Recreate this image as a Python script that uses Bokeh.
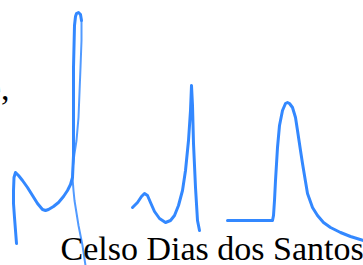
from bokeh.plotting import figure
from bokeh.models import Range1d, Label
from bokeh.embed import file_html
from bokeh.resources import INLINE

# Curve 1 (left): rising part and the looping top
c1_x = [16, 15, 14, 13, 13, 13.5, 15, 18, 22, 27, 32, 37, 42, 45, 48, 53, 58, 63, 67, 70, 72, 73, 73, 74, 75, 76, 78, 80, 81]
c1_y = [22, 35, 48, 62, 75, 88, 93, 90, 85, 78, 70, 62, 56, 55, 56, 59, 63, 69, 75, 81, 88, 110, 198, 240, 249, 252, 253, 251, 245]
# Curve 1 descending leg (thinner)
c1d_x = [81, 81, 80, 78, 76, 74, 72.5, 72, 73, 74, 78, 82, 85]
c1d_y = [245, 225, 198, 148, 125, 112, 100, 88, 75, 65, 40, 20, 0]

# Curve 2 (middle)
c2_x = [132, 137, 141, 144, 147, 150, 154, 159, 165, 170, 174, 178, 182, 185, 188, 190, 191, 192, 193, 195, 197, 199]
c2_y = [58, 63, 69, 72, 70, 63, 54, 47, 43, 45, 50, 60, 75, 95, 125, 155, 180, 160, 122, 78, 45, 35]

# Curve 3 (right)
c3_x = [227, 272, 273, 274, 275, 277, 279, 282, 285, 287, 289, 292, 295, 297, 300, 302, 305, 307, 312, 317, 323, 330, 340, 350, 363]
c3_y = [45, 45, 50, 65, 85, 118, 140, 155, 162, 163, 162, 158, 148, 135, 115, 102, 84, 72, 58, 50, 43, 38, 33, 29, 25]

author = "Celso Dias dos Santos"
BLUE = "#3388ff"

p = figure(width=363, height=265, output_backend="svg", toolbar_location=None,
           x_range=Range1d(0, 363), y_range=Range1d(0, 265), min_border=0)
p.axis.visible = False
p.grid.visible = False
p.outline_line_color = None
p.background_fill_color = "white"
p.border_fill_color = "white"

p.line(c1d_x, c1d_y, line_color=BLUE, line_width=2, line_alpha=0.85, line_cap="round", line_join="round")
p.line(c1_x, c1_y, line_color=BLUE, line_width=3, line_cap="round", line_join="round")
p.line(c2_x, c2_y, line_color=BLUE, line_width=3, line_cap="round", line_join="round")
p.line(c3_x, c3_y, line_color=BLUE, line_width=3, line_cap="round", line_join="round")

p.add_layout(Label(x=60, y=17, text=author, text_font="Liberation Serif",
                   text_font_size="34px", text_color="black",
                   text_baseline="alphabetic", text_align="left"))
p.add_layout(Label(x=9, y=177, text="e,", text_font="Liberation Serif",
                   text_font_size="34px", text_color="black",
                   text_baseline="alphabetic", text_align="right"))

open("out.html", "w").write(file_html(p, INLINE))
